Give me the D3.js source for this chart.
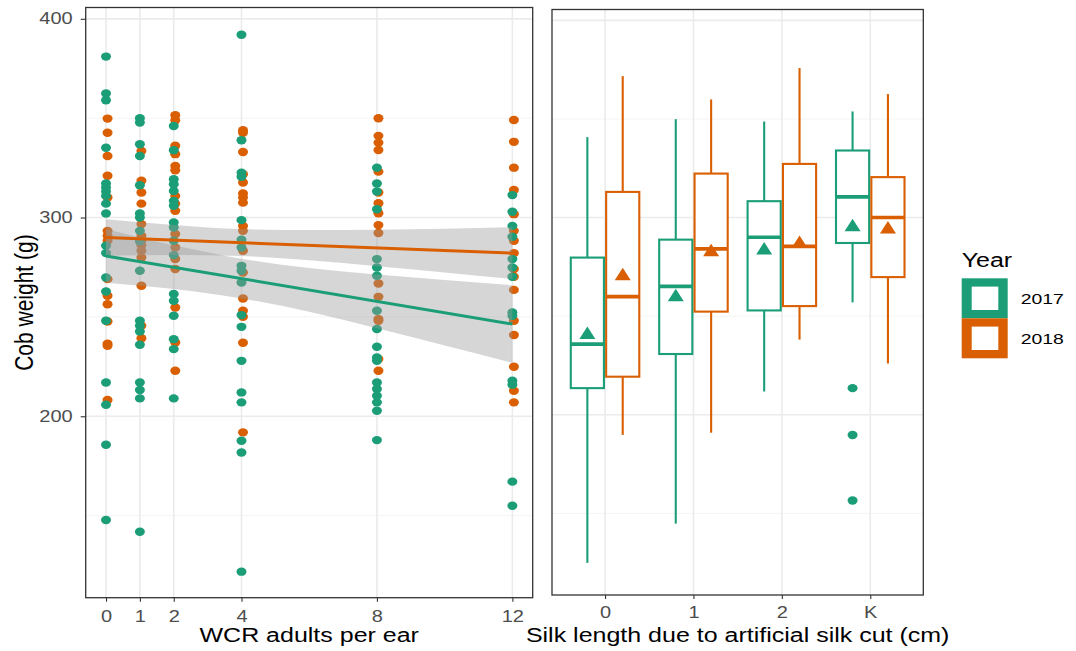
<!DOCTYPE html>
<html>
<head>
<meta charset="utf-8">
<script src="https://cdn.jsdelivr.net/npm/d3@7"></script>
<style>
body{margin:0;background:#fff}
svg{display:block;font-family:"Liberation Sans",Arial,sans-serif}
</style>
</head>
<body>
<svg id="chart" width="1076" height="651"></svg>
<script>
// left panel: cob weight vs WCR adults per ear
const doses = [0, 1, 2, 4, 8, 12];
const years = ["2017", "2018"];
const yearColors = ["#1b9e77", "#d95f02"];

const weight2017 = [
  [381.0, 362.4, 359.0, 335.1, 317.1, 315.1, 313.1, 310.9, 307.0, 302.0, 285.8, 282.1, 269.8, 262.8, 248.1, 217.0, 205.8, 185.7, 147.8],
  [350.0, 347.8, 336.9, 331.0, 316.3, 302.0, 300.0, 293.3, 288.0, 273.2, 248.1, 245.6, 242.7, 236.0, 217.0, 213.2, 209.0, 141.9],
  [346.1, 333.9, 319.3, 316.8, 313.4, 308.4, 305.9, 297.5, 295.0, 288.3, 281.1, 261.5, 258.1, 250.6, 238.8, 233.8, 209.0],
  [392.0, 338.9, 322.6, 320.5, 298.7, 288.8, 284.9, 275.7, 273.2, 267.3, 250.9, 245.0, 227.9, 212.0, 207.0, 187.7, 181.8, 121.8],
  [325.1, 317.1, 313.1, 304.2, 279.1, 274.9, 270.7, 253.1, 243.9, 235.0, 229.6, 227.9, 217.0, 213.7, 210.3, 207.0, 202.8, 188.0],
  [311.3, 302.9, 295.8, 290.3, 279.1, 274.9, 270.2, 252.2, 250.6, 217.9, 215.9, 167.1, 155.0]
];
const weight2018 = [
  [349.8, 342.7, 331.0, 321.0, 310.1, 293.3, 290.8, 288.3, 269.0, 260.6, 256.4, 247.7, 236.5, 235.5, 208.2],
  [333.5, 318.5, 312.6, 307.0, 296.7, 290.8, 288.3, 286.0, 283.3, 279.9, 265.7, 245.6, 239.3],
  [351.5, 349.0, 336.1, 331.9, 326.0, 323.8, 310.9, 307.0, 303.4, 291.7, 284.9, 279.1, 274.1, 254.7, 237.1, 222.9],
  [343.9, 342.7, 333.0, 321.8, 317.6, 312.1, 310.1, 307.5, 295.8, 293.3, 283.3, 272.3, 259.3, 253.1, 250.1, 237.0, 191.9],
  [350.0, 341.1, 337.7, 334.0, 323.1, 312.6, 307.2, 302.2, 296.2, 292.2, 266.8, 260.1, 248.9, 248.1, 228.8, 222.9],
  [349.1, 338.1, 325.1, 313.9, 301.7, 293.3, 288.3, 282.1, 274.1, 270.2, 263.6, 248.1, 240.9, 224.9, 212.8, 207.0]
];

// fitted lines (value at 0 and 12) and confidence band
const fitEnds = [0, 12];
const fit2017 = [280.7, 246.4];
const fit2018 = [290.0, 282.1];
const bandX = [0, 2, 4, 6, 8, 10, 12];
const bandLo2017 = [267.2, 264.0, 259.3, 252.6, 244.3, 235.6, 226.9];
const bandHi2017 = [294.2, 286.0, 279.3, 274.6, 271.3, 268.6, 265.9];
const bandLo2018 = [280.8, 281.1, 280.6, 278.5, 275.5, 272.4, 269.1];
const bandHi2018 = [299.2, 296.3, 294.2, 293.7, 293.9, 294.4, 295.1];

// right panel: box plots per silk length
const silkCats = ["0", "1", "2", "K"];
// [lower whisker, q1, median, q3, upper whisker]
const box2017 = [[124.9, 213.5, 235.8, 279.7, 340.8], [144.8, 230.8, 265.1, 288.8, 349.9], [211.8, 252.9, 290.0, 308.3, 348.7], [257.0, 287.1, 310.5, 334.0, 353.8]];
const box2018 = [[189.8, 219.3, 259.9, 313.0, 371.7], [190.9, 252.3, 284.1, 322.3, 359.9], [238.1, 255.1, 285.4, 327.2, 375.8], [226.0, 269.8, 300.0, 320.5, 362.6]];
const mean2017 = [241.4, 260.6, 284.3, 296.1];
const mean2018 = [271.2, 283.4, 287.6, 294.9];
const out2017 = [[], [], [], [213.5, 189.7, 156.5]];
const out2018 = [[], [], [], []];

const yMajor = [200, 300, 400];
const yMinor = [150, 250, 350];

const svg = d3.select("#chart");
const SX = 1.25; // the picture is stretched sideways
const tickFont = 16;

function stext(g, x, y, str, size, anchor, fill){
    return g.append("text")
        .attr("transform", "translate(" + x + "," + y + ") scale(" + SX + ",1)")
        .attr("text-anchor", anchor)
        .attr("font-size", size)
        .attr("fill", fill)
        .text(str);
}

const xL = d3.scaleLinear().domain([-0.6, 12.6]).range([85.7, 532.7]);
const yL = d3.scaleLinear().domain([108.7, 405.7]).range([597.7, 7.5]);
const xR = d3.scaleLinear().domain([0.4, 4.6]).range([552, 923.3]);
const yR = d3.scaleLinear().domain([108.6, 405.5]).range([595, 9.5]);

function grid(g, xs, ys, xVals){
    var x0 = xs.range()[0], x1 = xs.range()[1], y0 = ys.range()[1], y1 = ys.range()[0];
    g.selectAll(".gmin").data(yMinor).enter().append("line")
        .attr("x1", x0).attr("x2", x1).attr("y1", d => ys(d)).attr("y2", d => ys(d))
        .attr("stroke", "#f4f4f4").attr("stroke-width", 1);
    g.selectAll(".gmaj").data(yMajor).enter().append("line")
        .attr("x1", x0).attr("x2", x1).attr("y1", d => ys(d)).attr("y2", d => ys(d))
        .attr("stroke", "#ebebeb").attr("stroke-width", 1.6);
    g.selectAll(".gx").data(xVals).enter().append("line")
        .attr("x1", d => xs(d)).attr("x2", d => xs(d)).attr("y1", y0).attr("y2", y1)
        .attr("stroke", "#ebebeb").attr("stroke-width", 1.6);
}

function border(g, xs, ys){
    g.append("rect")
        .attr("x", xs.range()[0]).attr("y", ys.range()[1])
        .attr("width", xs.range()[1] - xs.range()[0])
        .attr("height", ys.range()[0] - ys.range()[1])
        .attr("fill", "none").attr("stroke", "#333").attr("stroke-width", 1.3);
}

function styleAxis(a){
    a.select(".domain").remove();
    a.selectAll(".tick line").attr("stroke", "#333").attr("stroke-width", 1.1);
    a.selectAll(".tick text").attr("fill", "#4d4d4d").attr("font-size", tickFont)
        .attr("font-family", "Liberation Sans, Arial, sans-serif");
}

// ---------- left panel
const gl = svg.append("g");
grid(gl, xL, yL, doses);

// orange first, green over it (small sideways nudge for 2018)
[[weight2018, 1, 0.045], [weight2017, 0, 0]].forEach(function(s){
    var pts = [];
    s[0].forEach(function(vals, i){ vals.forEach(v => pts.push([doses[i], v])); });
    gl.append("g").selectAll("ellipse").data(pts).enter().append("ellipse")
        .attr("cx", d => xL(d[0] + s[2])).attr("cy", d => yL(d[1]))
        .attr("rx", 5).attr("ry", 4.2)
        .attr("fill", yearColors[s[1]]);
});

const area = d3.area().x(d => xL(d[0])).y0(d => yL(d[1])).y1(d => yL(d[2])).curve(d3.curveMonotoneX);
[[bandLo2017, bandHi2017], [bandLo2018, bandHi2018]].forEach(function(b){
    gl.append("path")
        .datum(bandX.map((x, i) => [x, b[0][i], b[1][i]]))
        .attr("d", area)
        .attr("fill", "#999999").attr("fill-opacity", 0.4);
});
[fit2017, fit2018].forEach(function(f, k){
    gl.append("line")
        .attr("x1", xL(fitEnds[0])).attr("x2", xL(fitEnds[1]))
        .attr("y1", yL(f[0])).attr("y2", yL(f[1]))
        .attr("stroke", yearColors[k]).attr("stroke-width", 3);
});
border(gl, xL, yL);

const axL = gl.append("g").attr("transform", "translate(" + xL.range()[0] + ",0)")
    .call(d3.axisLeft(yL).tickValues(yMajor).tickSize(5).tickFormat(d3.format("d")));
styleAxis(axL);
axL.selectAll(".tick text").attr("x", -13 / SX).attr("transform", "scale(" + SX + ",1)");

const axB = gl.append("g").attr("transform", "translate(0," + yL.range()[0] + ")")
    .call(d3.axisBottom(xL).tickValues(doses).tickSize(4).tickFormat(d3.format("d")));
styleAxis(axB);
axB.selectAll(".tick text").attr("transform", "scale(" + SX + ",1)").attr("y", 12.5).attr("dy", "0.71em");

stext(gl, (xL.range()[0] + xL.range()[1]) / 2, 642, "WCR adults per ear", 20, "middle", "#000");
gl.append("text")
    .attr("transform", "translate(33," + (yL.range()[0] + yL.range()[1]) / 2 + ") rotate(-90) scale(1," + SX + ")")
    .attr("text-anchor", "middle").attr("font-size", 21).attr("fill", "#000")
    .text("Cob weight (g)");

// ---------- right panel
const gr = svg.append("g");
grid(gr, xR, yR, [1, 2, 3, 4]);

const dodge = 0.2, bw = 0.375;
[[box2017, mean2017, out2017, -dodge], [box2018, mean2018, out2018, dodge]].forEach(function(s, k){
    var col = yearColors[k];
    s[0].forEach(function(b, i){
        var cx = xR(i + 1 + s[3]);
        var half = (xR(bw) - xR(0)) / 2;
        var g = gr.append("g");
        g.append("line").attr("x1", cx).attr("x2", cx).attr("y1", yR(b[0])).attr("y2", yR(b[1]))
            .attr("stroke", col).attr("stroke-width", 2.1);
        g.append("line").attr("x1", cx).attr("x2", cx).attr("y1", yR(b[3])).attr("y2", yR(b[4]))
            .attr("stroke", col).attr("stroke-width", 2.1);
        g.append("rect").attr("x", cx - half).attr("width", 2 * half)
            .attr("y", yR(b[3])).attr("height", yR(b[1]) - yR(b[3]))
            .attr("fill", "#fff").attr("stroke", col).attr("stroke-width", 2.1);
        g.append("line").attr("x1", cx - half).attr("x2", cx + half).attr("y1", yR(b[2])).attr("y2", yR(b[2]))
            .attr("stroke", col).attr("stroke-width", 3.6);
        var my = yR(s[1][i]);
        g.append("path")
            .attr("d", "M" + (cx - 8) + "," + (my + 6) + "L" + (cx + 8) + "," + (my + 6) + "L" + cx + "," + (my - 6.5) + "Z")
            .attr("fill", col);
        g.selectAll("ellipse").data(s[2][i]).enter().append("ellipse")
            .attr("cx", cx).attr("cy", d => yR(d)).attr("rx", 5).attr("ry", 4.2).attr("fill", col);
    });
});
border(gr, xR, yR);

const axR = gr.append("g").attr("transform", "translate(0," + yR.range()[0] + ")")
    .call(d3.axisBottom(xR).tickValues([1, 2, 3, 4]).tickSize(4).tickFormat(d => silkCats[d - 1]));
styleAxis(axR);
axR.selectAll(".tick text").attr("transform", "scale(" + SX + ",1)").attr("y", 12).attr("dy", "0.71em");

stext(gr, (xR.range()[0] + xR.range()[1]) / 2, 642, "Silk length due to artificial silk cut (cm)", 20, "middle", "#000");

// ---------- legend
const lg = svg.append("g");
stext(lg, 961.7, 266.5, "Year", 20, "start", "#000");
years.forEach(function(y, i){
    var top = 278.3 + i * 40;
    lg.append("rect").attr("x", 961.7).attr("y", top).attr("width", 46).attr("height", 40).attr("fill", yearColors[i]);
    lg.append("rect").attr("x", 971.7).attr("y", top + 8.3).attr("width", 26.6).attr("height", 23.4).attr("fill", "#fff");
    stext(lg, 1020.7, top + 25.5, y, 15.5, "start", "#000");
});
</script>
</body>
</html>
